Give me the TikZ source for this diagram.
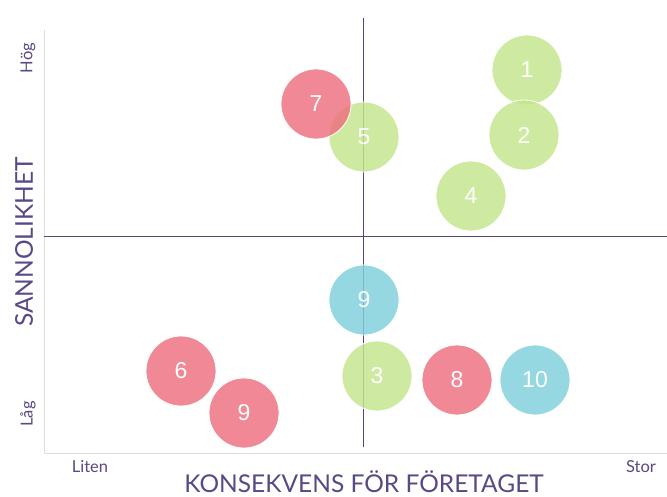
\documentclass[tikz,border=0pt]{standalone}
\usepackage{fontspec}
\setmainfont{Liberation Sans}
\newfontfamily\axisfont{Lato}
\begin{document}
\begin{tikzpicture}[x=1pt,y=-1pt]
\definecolor{cgreen}{RGB}{196,230,140}
\definecolor{cred}{RGB}{238,110,126}
\definecolor{ccyan}{RGB}{128,208,220}
\definecolor{cpurple}{RGB}{90,72,135}
\definecolor{cline}{RGB}{88,70,120}
\definecolor{cframe}{RGB}{222,222,222}
\tikzset{
  bubble/.style={circle,minimum size=70pt,inner sep=0pt,draw=white,line width=0.8pt,fill opacity=0.82,text opacity=1,text=white,font=\fontsize{23}{23}\selectfont},
  gb/.style={bubble,fill=cgreen},
  rb/.style={bubble,fill=cred},
  cb/.style={bubble,fill=ccyan},
  axlabel/.style={text=cpurple,font=\axisfont\fontsize{16.5}{16.5}\selectfont,inner sep=0pt},
  axtitle/.style={text=cpurple,font=\axisfont\fontsize{24.5}{24.5}\selectfont,inner sep=0pt},
  frameline/.style={draw=cframe,line width=1pt},
  quadline/.style={draw=cline,line width=0.8pt}
}
\useasboundingbox (0,0) rectangle (667,497);
\fill[white] (0,0) rectangle (667,497);
% frame
\coordinate (ftop) at (44,30);
\coordinate (fcorner) at (44,453);
\coordinate (fright) at (667,453);
\draw[frameline] (ftop) -- (fcorner) -- (fright);
% quadrant lines
\coordinate (vtop) at (363,18);
\coordinate (vbot) at (363,447);
\coordinate (hleft) at (44,236);
\coordinate (hright) at (667,236);
\draw[quadline] (vtop) -- (vbot);
\draw[quadline] (hleft) -- (hright);
% bubbles
\node[gb] (n1) at (527,70) {1};
\node[gb] (n2) at (524,135) {2};
\node[gb] (n4) at (471,196) {4};
\node[gb] (n5) at (364,137) {5};
\node[rb] (n7) at (316,104) {7};
\node[cb] (n9a) at (364,300) {9};
\node[gb] (n3) at (377,376) {3};
\node[rb] (n6) at (181,371) {6};
\node[rb] (n9b) at (244,413) {9};
\node[rb] (n8) at (457,380) {8};
\node[cb] (n10) at (535,380) {10};
% axis labels
\node[axlabel,rotate=90] (hog) at (28,58) {Hög};
\node[axlabel,rotate=90] (lag) at (28,414) {Låg};
\node[axtitle,rotate=90] (sann) at (24,242) {SANNOLIKHET};
\node[axlabel] (liten) at (90,467) {Liten};
\node[axlabel] (stor) at (641,467) {Stor};
\node[axtitle] (kons) at (364,482) {KONSEKVENS FÖR FÖRETAGET};
\end{tikzpicture}
\end{document}
